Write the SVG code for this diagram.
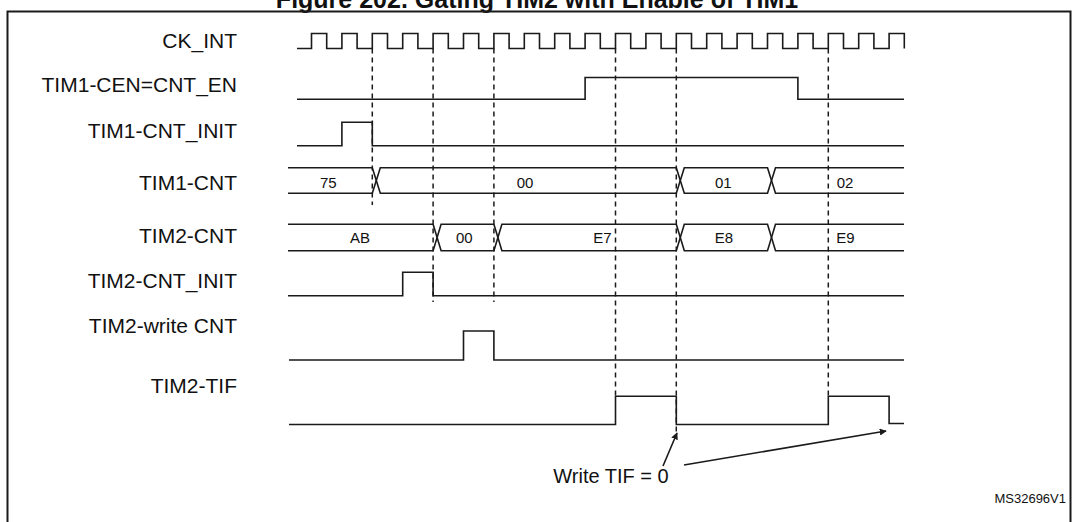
<svg xmlns="http://www.w3.org/2000/svg" width="1077" height="522" viewBox="0 0 1077 522">
<defs>
<style>
.lbl{font-family:"Liberation Sans",Arial,sans-serif;font-size:21px;fill:#111;text-anchor:end}
.bus{font-family:"Liberation Sans",Arial,sans-serif;font-size:15px;fill:#111;text-anchor:middle}
.sig{fill:none;stroke:#1a1a1a;stroke-width:1.6}
.dash{fill:none;stroke:#1a1a1a;stroke-width:1.5;stroke-dasharray:5,4}
.arr{fill:none;stroke:#1a1a1a;stroke-width:1.6}
</style>
<marker id="ah" viewBox="0 0 10 10" refX="9" refY="5" markerWidth="7" markerHeight="7" orient="auto" markerUnits="userSpaceOnUse">
<path d="M0,0 L10,5 L0,10 z" fill="#1a1a1a"/>
</marker>
</defs>
<rect width="1077" height="522" fill="#fff"/>
<text x="537" y="8" font-family="Liberation Sans,Arial,sans-serif" font-size="25" font-weight="bold" text-anchor="middle" fill="#111">Figure 202. Gating TIM2 with Enable of TIM1</text>
<rect x="7.5" y="11.5" width="1063" height="520" fill="none" stroke="#1a1a1a" stroke-width="2"/>

<g id="ck_int">
<text class="lbl" x="237" y="48.3">CK_INT</text>
<path class="sig" d="M297,48.5 H311.5 V33.5 H326.7 V48.5 H341.9 V33.5 H357.1 V48.5 H372.3 V33.5 H387.5 V48.5 H402.7 V33.5 H417.9 V48.5 H433.1 V33.5 H448.3 V48.5 H463.5 V33.5 H478.7 V48.5 H493.9 V33.5 H509.1 V48.5 H524.3 V33.5 H539.5 V48.5 H554.7 V33.5 H569.9 V48.5 H585.1 V33.5 H600.3 V48.5 H615.5 V33.5 H630.7 V48.5 H645.9 V33.5 H661.1 V48.5 H676.3 V33.5 H691.5 V48.5 H706.7 V33.5 H721.9 V48.5 H737.1 V33.5 H752.3 V48.5 H767.5 V33.5 H782.7 V48.5 H797.9 V33.5 H813.1 V48.5 H828.3 V33.5 H843.5 V48.5 H858.7 V33.5 H873.9 V48.5 H889.1 V33.5 H904.3 V48.5"/>
</g>

<g id="tim1_cen">
<text class="lbl" x="237" y="92.3">TIM1-CEN=CNT_EN</text>
<path class="sig" d="M297,99.3 H585.1 V77.5 H797.9 V99.3 H904"/>
</g>

<g id="tim1_cnt_init">
<text class="lbl" x="237" y="137.7">TIM1-CNT_INIT</text>
<path class="sig" d="M297,145.7 H341.9 V122.3 H372.3 V145.7 H904"/>
</g>

<g id="tim1_cnt">
<text class="lbl" x="237" y="190">TIM1-CNT</text>
<path class="sig" d="M288,167.7 H372.3 L380.3,193.3 H676.3 L684.3,167.7 H767.5 L775.5,193.3 H904"/>
<path class="sig" d="M288,193.3 H372.3 L380.3,167.7 H676.3 L684.3,193.3 H767.5 L775.5,167.7 H904"/>
<text class="bus" x="328.3" y="188">75</text>
<text class="bus" x="525" y="188">00</text>
<text class="bus" x="723.3" y="188">01</text>
<text class="bus" x="845" y="188">02</text>
</g>

<g id="tim2_cnt">
<text class="lbl" x="237" y="243.3">TIM2-CNT</text>
<path class="sig" d="M288,224.3 H433.1 L441.1,250.7 H493.9 L501.9,224.3 H676.3 L684.3,250.7 H767.5 L775.5,224.3 H904"/>
<path class="sig" d="M288,250.7 H433.1 L441.1,224.3 H493.9 L501.9,250.7 H676.3 L684.3,224.3 H767.5 L775.5,250.7 H904"/>
<text class="bus" x="360" y="242.7">AB</text>
<text class="bus" x="464.3" y="242.7">00</text>
<text class="bus" x="602.5" y="242.7">E7</text>
<text class="bus" x="724" y="242.7">E8</text>
<text class="bus" x="845.5" y="242.7">E9</text>
</g>

<g id="tim2_cnt_init">
<text class="lbl" x="237" y="288.3">TIM2-CNT_INIT</text>
<path class="sig" d="M288,295.7 H402.7 V272.3 H433.1 V295.7 H904"/>
</g>

<g id="tim2_write_cnt">
<text class="lbl" x="237" y="333.3">TIM2-write CNT</text>
<path class="sig" d="M289,360 H463.5 V331 H493.9 V360 H904"/>
</g>

<g id="tim2_tif">
<text class="lbl" x="237" y="393.3">TIM2-TIF</text>
<path class="sig" d="M289,424.5 H615.5 V396.3 H676.3 V424.5 H828.3 V396.3 H889.1 V423.5 H904"/>
</g>

<g id="note">
<text x="611" y="483" font-family="Liberation Sans,Arial,sans-serif" font-size="20" text-anchor="middle" fill="#111">Write TIF = 0</text>
</g>

<g id="connectors">
<line class="dash" x1="372.3" y1="48.5" x2="372.3" y2="205"/>
<line class="dash" x1="433.1" y1="48.5" x2="433.1" y2="302"/>
<line class="dash" x1="493.9" y1="48.5" x2="493.9" y2="302"/>
<line class="dash" x1="615.5" y1="48.5" x2="615.5" y2="396.3"/>
<line class="dash" x1="676.3" y1="48.5" x2="676.3" y2="432"/>
<line class="dash" x1="828.3" y1="48.5" x2="828.3" y2="396.3"/>
<line class="arr" x1="663" y1="466" x2="677" y2="433" marker-end="url(#ah)"/>
<line class="arr" x1="684" y1="465" x2="886" y2="431" marker-end="url(#ah)"/>
</g>

<text x="1066" y="503" font-family="Liberation Sans,Arial,sans-serif" font-size="13" text-anchor="end" fill="#111">MS32696V1</text>
</svg>
